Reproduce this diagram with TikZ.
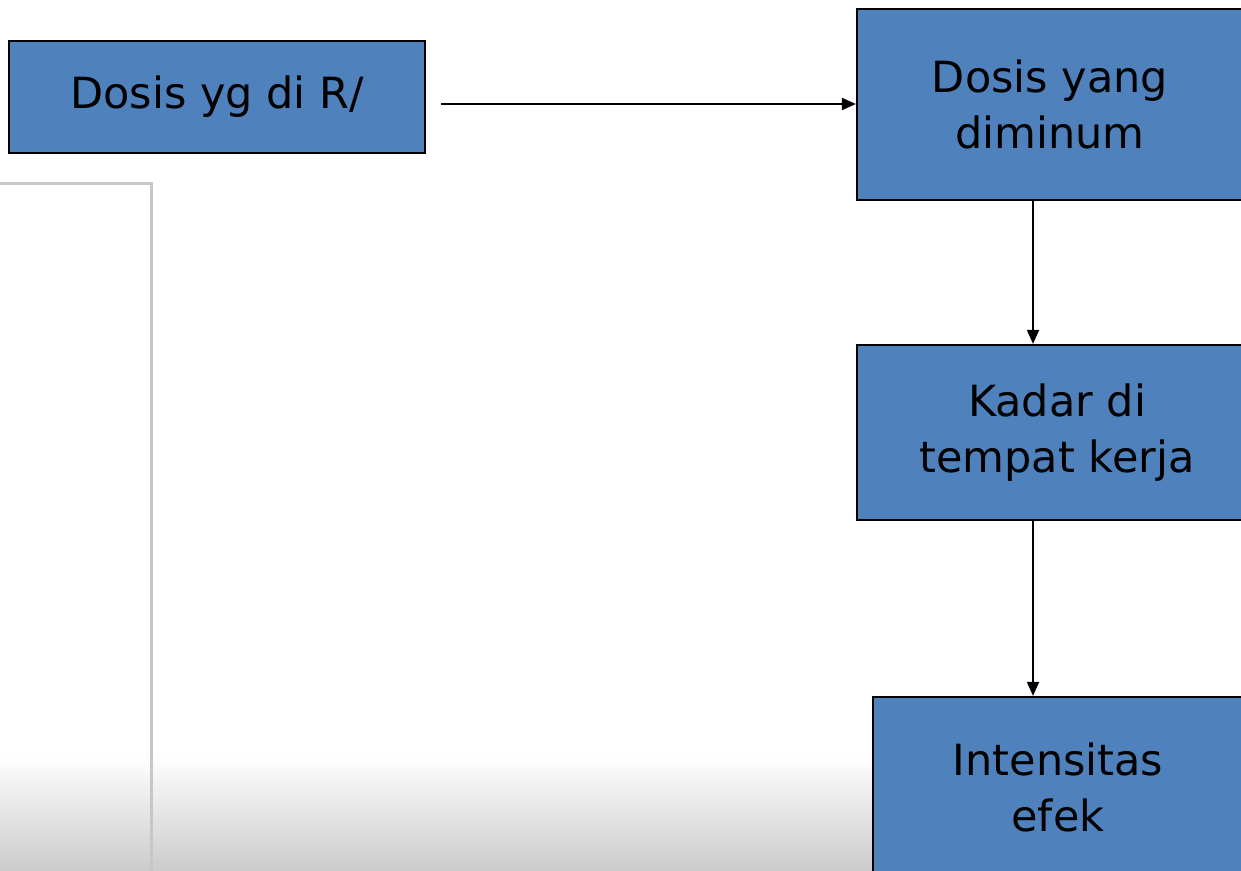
\documentclass[tikz,border=0pt]{standalone}
\usepackage{fontspec}
\setmainfont{DejaVu Sans}
\usetikzlibrary{arrows.meta}
\definecolor{boxblue}{RGB}{79,129,189}
\tikzset{
  box/.style={draw=black, line width=2.2pt, fill=boxblue, align=center, inner sep=0pt,
    font=\fontsize{43}{56}\selectfont},
  conn/.style={line width=1.8pt, -{Triangle[length=14pt,width=12pt]}}
}
\begin{document}
\begin{tikzpicture}[x=1pt,y=-1pt]
\useasboundingbox (0,0) rectangle (1241,870);
\clip (0,0) rectangle (1241,870);
\fill[white] (0,0) rectangle (1241,870);
% bottom gradient
\shade[top color=white, bottom color=black!20] (0,755) rectangle (1241,870);
% gray frame on left
\draw[black!22, line width=3pt] (-10,183) -- (151,183) -- (151,880);
% boxes
\node[box, minimum width=416, minimum height=112] (b1) at (217,97) {Dosis yg di R/};
\node[box, minimum width=386, minimum height=191] (b2) at (1050,104.5) {Dosis yang\\diminum};
\node[box, minimum width=400, minimum height=175] (b3) at (1057,432.5) {Kadar di\\tempat kerja};
\node[box, minimum width=370, minimum height=180] (b4) at (1058,787) {Intensitas\\efek};
\coordinate (ax) at (1033,0);
\coordinate (hs) at (441,104);
% connectors
\draw[conn] (hs) -- (hs -| b2.west);
\draw[conn] (b2.south -| ax) -- (b3.north -| ax);
\draw[conn] (b3.south -| ax) -- (b4.north -| ax);
\end{tikzpicture}
\end{document}
